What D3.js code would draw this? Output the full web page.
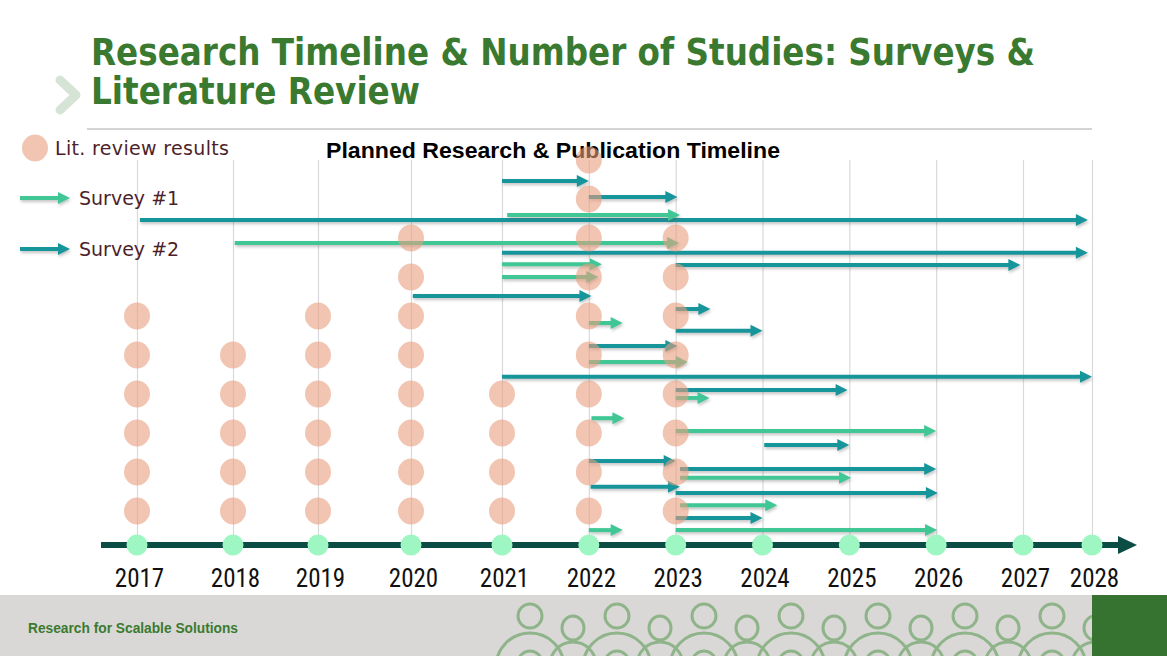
<!DOCTYPE html>
<html>
<head>
<meta charset="utf-8">
<script src="https://cdn.jsdelivr.net/npm/d3@7"></script>
<style>
  html, body { margin: 0; padding: 0; background: #fff; }
  svg { display: block; }
  .year-labels text { font-family: 'Liberation Sans Narrow', 'Roboto Condensed', 'DejaVu Sans Condensed', sans-serif; font-size: 25px; fill: #111; }
  .legend-text { font-family: 'DejaVu Sans', Verdana, sans-serif; font-size: 19px; fill: #4d1f2a; }
</style>
</head>
<body>
<div id="visualization"></div>
<script>
// years on the timeline
const years = [2017, 2018, 2019, 2020, 2021, 2022, 2023, 2024, 2025, 2026, 2027, 2028]

// number of lit. review results per year
const litYears = [2017, 2018, 2019, 2020, 2021, 2022, 2023]
const litCounts = [6, 5, 6, 8, 4, 10, 8]

// survey arrows: [start year, end year, lane]  (lane 0 = bottom row of dots)
const survey1Arrows = [
  [2021.06, 2023.05, 7.59],
  [2018.02, 2023.04, 6.87],
  [2021.0, 2022.15, 6.33],
  [2021.0, 2022.11, 6.0],
  [2022.0, 2022.39, 4.82],
  [2022.0, 2023.14, 3.82],
  [2023.0, 2023.39, 2.9],
  [2022.03, 2022.41, 2.38],
  [2023.0, 2026.0, 2.05],
  [2023.05, 2025.02, 0.85],
  [2023.05, 2024.17, 0.15],
  [2022.0, 2022.39, -0.49],
  [2023.0, 2026.01, -0.49]
]

const survey2Arrows = [
  [2021.0, 2022.0, 8.46],
  [2022.0, 2023.02, 8.05],
  [2017.03, 2027.94, 7.46],
  [2021.0, 2027.94, 6.62],
  [2023.0, 2026.97, 6.31],
  [2020.02, 2022.03, 5.51],
  [2023.0, 2023.4, 5.18],
  [2023.0, 2024.0, 4.62],
  [2022.0, 2023.02, 4.23],
  [2021.0, 2028.0, 3.44],
  [2023.0, 2024.98, 3.1],
  [2024.02, 2025.0, 1.69],
  [2022.0, 2023.0, 1.28],
  [2023.05, 2026.0, 1.08],
  [2022.02, 2023.05, 0.62],
  [2023.0, 2026.02, 0.46],
  [2023.0, 2024.0, -0.18]
]

const legendItems = ['Lit. review results', 'Survey #1', 'Survey #2']

const width = 1167
const height = 656
const green = '#3fc795'
const teal = '#13959b'

const svg = d3.select('#visualization')
  .append('svg')
  .attr('id', 'canvas')
  .attr('width', width)
  .attr('height', height)

const defs = svg.append('defs')
const shadow = defs.append('filter')
  .attr('id', 'shadow')
  .attr('x', '-5%').attr('y', '-100%')
  .attr('width', '110%').attr('height', '300%')
shadow.append('feDropShadow')
  .attr('dx', 1).attr('dy', 2)
  .attr('stdDeviation', 1.4)
  .attr('flood-color', '#555')
  .attr('flood-opacity', 0.35)

defs.append('clipPath').attr('id', 'footer-clip')
  .append('rect')
  .attr('x', 0).attr('y', 595)
  .attr('width', 1092).attr('height', 61)

// scales (year spacing on the slide is slightly uneven)
const x = d3.scaleLinear()
  .domain([2017, 2018, 2019, 2020, 2021, 2027, 2028])
  .range([137, 233, 318, 411, 502, 1023, 1092])

const y = d3.scaleLinear()
  .domain([0, 9])
  .range([511, 160])

const axisY = 545

// ---- header ----
svg.append('path')
  .attr('d', 'M60,80 L76,95 L60,110')
  .attr('fill', 'none')
  .attr('stroke', '#d5e4d4')
  .attr('stroke-width', 9)
  .attr('stroke-linejoin', 'round')
  .attr('stroke-linecap', 'round')

const title = svg.append('g')
  .attr('font-family', "'DejaVu Sans Condensed', 'DejaVu Sans', sans-serif")
  .attr('font-weight', 'bold')
  .attr('font-size', 37)
  .attr('fill', '#3a7a30')

title.append('text')
  .attr('x', 91).attr('y', 65)
  .attr('textLength', 944)
  .attr('lengthAdjust', 'spacingAndGlyphs')
  .text('Research Timeline & Number of Studies: Surveys &')

title.append('text')
  .attr('x', 91).attr('y', 104)
  .attr('textLength', 329)
  .attr('lengthAdjust', 'spacingAndGlyphs')
  .text('Literature Review')

svg.append('line')
  .attr('x1', 87).attr('x2', 1092)
  .attr('y1', 129).attr('y2', 129)
  .attr('stroke', '#d4d4d4')
  .attr('stroke-width', 2)

// ---- gridlines ----
svg.append('g')
  .attr('transform', `translate(0,${axisY})`)
  .call(d3.axisBottom(x).tickValues(years).tickSize(-(axisY - 160)).tickFormat(''))
  .call(g => g.select('.domain').remove())
  .call(g => g.selectAll('.tick line').attr('stroke', '#d9d9d9').attr('stroke-width', 1.2))

svg.append('text')
  .attr('x', 553).attr('y', 158)
  .attr('text-anchor', 'middle')
  .attr('font-family', "'Liberation Sans', Arial, sans-serif")
  .attr('font-weight', 'bold')
  .attr('font-size', 22)
  .attr('fill', '#000')
  .attr('textLength', 454)
  .attr('lengthAdjust', 'spacingAndGlyphs')
  .text('Planned Research & Publication Timeline')

// ---- arrows ----
function drawArrow(g, x0, x1, yy, color) {
  const head = 12
  const a = g.append('g').attr('filter', 'url(#shadow)')
  a.append('line')
    .attr('x1', x0).attr('x2', x1 - head + 2)
    .attr('y1', yy).attr('y2', yy)
    .attr('stroke', color)
    .attr('stroke-width', 4)
  a.append('path')
    .attr('d', `M${x1 - head},${yy - 6} L${x1},${yy} L${x1 - head},${yy + 6} Z`)
    .attr('fill', color)
}

const arrows = svg.append('g').attr('class', 'arrows')
survey2Arrows.forEach(d => drawArrow(arrows, x(d[0]), x(d[1]), y(d[2]), teal))
survey1Arrows.forEach(d => drawArrow(arrows, x(d[0]), x(d[1]), y(d[2]), green))

// ---- lit. review dots ----
const litData = []
litYears.forEach((yr, i) => {
  d3.range(litCounts[i]).forEach(level => litData.push({ year: yr, level }))
})

svg.append('g')
  .selectAll('ellipse')
  .data(litData)
  .join('ellipse')
  .attr('cx', d => x(d.year))
  .attr('cy', d => y(d.level))
  .attr('rx', 13)
  .attr('ry', 13.5)
  .attr('fill', '#e79f7e')
  .attr('opacity', 0.6)

// ---- timeline axis ----
svg.append('line')
  .attr('x1', 101).attr('x2', 1122)
  .attr('y1', axisY).attr('y2', axisY)
  .attr('stroke', '#0b4d45')
  .attr('stroke-width', 6)

svg.append('path')
  .attr('d', `M1118,${axisY - 9} L1137,${axisY} L1118,${axisY + 9} Z`)
  .attr('fill', '#0b4d45')

svg.append('g')
  .selectAll('circle')
  .data(years)
  .join('circle')
  .attr('cx', d => x(d))
  .attr('cy', axisY)
  .attr('r', 10.5)
  .attr('fill', '#9ef7c3')

svg.append('g')
  .attr('class', 'year-labels')
  .attr('transform', `translate(2,${axisY})`)
  .call(d3.axisBottom(x).tickValues(years).tickFormat(d3.format('d')).tickSize(0).tickPadding(24))
  .call(g => g.select('.domain').remove())
  .call(g => g.selectAll('text').attr('fill', '#111').attr('font-size', null).attr('font-family', null))

// ---- legend ----
svg.append('ellipse')
  .attr('cx', 35).attr('cy', 148)
  .attr('rx', 13).attr('ry', 13.5)
  .attr('fill', '#e79f7e')
  .attr('opacity', 0.6)

svg.append('text')
  .attr('class', 'legend-text')
  .attr('x', 55).attr('y', 155)
  .attr('textLength', 174)
  .text(legendItems[0])

drawArrow(svg, 20, 70, 198, green)
svg.append('text')
  .attr('class', 'legend-text')
  .attr('x', 79).attr('y', 205)
  .text(legendItems[1])

drawArrow(svg, 20, 70, 249, teal)
svg.append('text')
  .attr('class', 'legend-text')
  .attr('x', 79).attr('y', 256)
  .text(legendItems[2])

// ---- footer ----
svg.append('rect')
  .attr('x', 0).attr('y', 595)
  .attr('width', width).attr('height', 61)
  .attr('fill', '#d9d8d6')

svg.append('text')
  .attr('x', 28).attr('y', 633)
  .attr('font-family', "'Liberation Sans Narrow', 'Liberation Sans', Arial, sans-serif")
  .attr('font-weight', 'bold')
  .attr('font-size', 14)
  .attr('fill', '#3b7a30')
  .attr('textLength', 210)
  .attr('lengthAdjust', 'spacingAndGlyphs')
  .text('Research for Scalable Solutions')

// decorative crowd of people outlines
const people = svg.append('g')
  .attr('clip-path', 'url(#footer-clip)')
  .attr('fill', 'none')
  .attr('stroke', '#8fb48a')
  .attr('stroke-width', 3)

const tallPeople = d3.range(7).map(i => 530 + i * 87)
const smallPeople = d3.range(7).map(i => 573 + i * 87)

tallPeople.forEach(cx => {
  people.append('ellipse').attr('cx', cx).attr('cy', 616).attr('rx', 12).attr('ry', 12)
  people.append('circle').attr('cx', cx).attr('cy', 667).attr('r', 34)
  people.append('ellipse').attr('cx', cx).attr('cy', 663).attr('rx', 12).attr('ry', 12)
})
smallPeople.forEach(cx => {
  people.append('ellipse').attr('cx', cx).attr('cy', 628).attr('rx', 11).attr('ry', 12)
  people.append('circle').attr('cx', cx).attr('cy', 665).attr('r', 23)
})

svg.append('rect')
  .attr('x', 1092).attr('y', 595)
  .attr('width', width - 1092).attr('height', 61)
  .attr('fill', '#367230')
</script>
</body>
</html>
